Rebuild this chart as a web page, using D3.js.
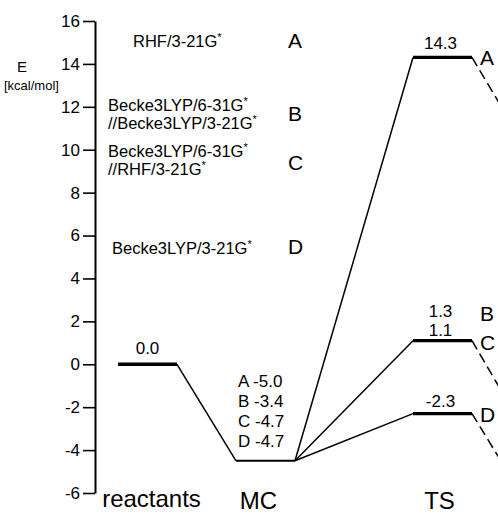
<!DOCTYPE html>
<meta charset="utf-8">
<head>
    <title>Energy profile</title>
</head>
<style>
    body { margin: 0; background: #fff; }
    text { font-family: 'Liberation Sans', Arial, Helvetica, sans-serif; fill: #000; }
    .y-axis path { stroke-width: 2; }
    .y-axis line { stroke-width: 1.6; }
    .y-axis text { font-size: 17px; }
</style>
<body>
<svg id="chart" width="498" height="514"></svg>
<script src="https://d3js.org/d3.v7.min.js"></script>
<script>
    // stages on the x axis
    const stages = ["reactants", "MC", "TS"];
    const stageSlots = [0, 2, 5];          // left end of each level, in slot units
    const yTicks = [16, 14, 12, 10, 8, 6, 4, 2, 0, -2, -4, -6];

    // methods
    const methodKeys = ["A", "B", "C", "D"];
    const methodNames = [
        ["RHF/3-21G*"],
        ["Becke3LYP/6-31G*", "//Becke3LYP/3-21G*"],
        ["Becke3LYP/6-31G*", "//RHF/3-21G*"],
        ["Becke3LYP/3-21G*"]
    ];

    // energies (kcal/mol)
    const reactantE = 0.0;
    const mcLevel = -4.5;                  // drawn MC level
    const mcE = [-5.0, -3.4, -4.7, -4.7];  // MC values per method
    const tsLevels = [14.3, 1.1, -2.3];    // drawn TS levels
    const tsLetters = [["A"], ["B", "C"], ["D"]];
    const tsValues = [["14.3"], ["1.3", "1.1"], ["-2.3"]];
    const exitE = [9.7, -3.6, -6.8];       // where the dashed lines head (off the frame)

    const svg = d3.select("#chart");
    const y = d3.scaleLinear().domain([-6, 16]).range([493, 21]);
    const x = d3.scaleLinear().domain([0, 6]).range([118, 472]);

    // y axis
    svg.append("g")
        .attr("class", "y-axis")
        .attr("transform", "translate(95,0)")
        .call(d3.axisLeft(y).tickValues(yTicks).tickSize(12).tickSizeOuter(0)
            .tickPadding(3).tickFormat(d => String(d)))
        .call(g => g.selectAll("path, line").attr("stroke", "#000"))
        .call(g => g.selectAll("text").attr("fill", "#000"));

    svg.append("text").attr("x", 22).attr("y", 72).attr("text-anchor", "middle")
        .style("font-size", "15px").text("E");
    svg.append("text").attr("x", 4).attr("y", 90)
        .style("font-size", "13px").text("[kcal/mol]");

    // stage names
    const stageLabelY = [507, 509, 509];
    const stageShift = [4, -7, -3];
    svg.selectAll(".stage")
        .data(stages)
        .enter()
        .append("text")
        .attr("x", (d, i) => x(stageSlots[i] + 0.5) + stageShift[i])
        .attr("y", (d, i) => stageLabelY[i])
        .attr("text-anchor", "middle")
        .style("font-size", "24px")
        .text(d => d);

    // legend of methods, one text per method, lines as tspans
    const legendX = [[133], [108, 108], [108, 108], [112]];
    const legendY = [47, 111, 157, 254];
    const letterY = [48, 121, 170, 254];
    methodNames.forEach((lines, i) => {
        const t = svg.append("text")
            .attr("y", legendY[i])
            .style("font-size", "16.5px");
        lines.forEach((line, j) => {
            t.append("tspan")
                .attr("x", legendX[i][j])
                .attr("dy", j == 0 ? 0 : 24)
                .text(line.replace("*", ""));
            t.append("tspan").attr("dy", -6).style("font-size", "11px").text("*");
        });
        svg.append("text")
            .attr("x", 288).attr("y", letterY[i])
            .style("font-size", "21px")
            .text(methodKeys[i]);
    });

    // connecting lines
    const links = svg.append("g").attr("stroke", "#000").attr("fill", "none");
    links.append("line")
        .attr("x1", x(stageSlots[0] + 1)).attr("y1", y(reactantE))
        .attr("x2", x(stageSlots[1])).attr("y2", y(mcLevel))
        .attr("stroke-width", 1.5);
    tsLevels.forEach((e, i) => {
        links.append("line")
            .attr("x1", x(stageSlots[1] + 1)).attr("y1", y(mcLevel))
            .attr("x2", x(stageSlots[2])).attr("y2", y(e))
            .attr("stroke-width", 1.5);
        links.append("line")
            .attr("x1", x(stageSlots[2] + 1)).attr("y1", y(e))
            .attr("x2", x(stageSlots[2] + 2)).attr("y2", y(exitE[i]))
            .attr("stroke-width", 1.5)
            .attr("stroke-dasharray", "10,5");
    });

    // levels
    const levels = svg.append("g").attr("stroke", "#000");
    levels.append("line")
        .attr("x1", x(stageSlots[0])).attr("x2", x(stageSlots[0] + 1))
        .attr("y1", y(reactantE)).attr("y2", y(reactantE))
        .attr("stroke-width", 3.5);
    levels.append("line")
        .attr("x1", x(stageSlots[1])).attr("x2", x(stageSlots[1] + 1))
        .attr("y1", y(mcLevel)).attr("y2", y(mcLevel))
        .attr("stroke-width", 2);
    levels.selectAll(".ts")
        .data(tsLevels)
        .enter()
        .append("line")
        .attr("x1", x(stageSlots[2])).attr("x2", x(stageSlots[2] + 1))
        .attr("y1", d => y(d)).attr("y2", d => y(d))
        .attr("stroke-width", 3.2);

    // value labels
    svg.append("text")
        .attr("x", x(stageSlots[0] + 0.5)).attr("y", y(reactantE) - 10)
        .attr("text-anchor", "middle").style("font-size", "17px")
        .text(reactantE.toFixed(1));

    // MC values, one text with a line per method
    const mcText = svg.append("text")
        .attr("y", y(mcLevel) - 74)
        .style("font-size", "17px");
    methodKeys.forEach((k, i) => {
        mcText.append("tspan")
            .attr("x", 238).attr("dy", i == 0 ? 0 : 20)
            .text(k + " " + mcE[i].toFixed(1));
    });

    const valueOffsets = [[-8], [-24, -5], [-7]];
    const letterOffsets = [[8], [-20, 9], [8]];
    tsLevels.forEach((e, i) => {
        const vt = svg.append("text")
            .attr("y", y(e) + valueOffsets[i][0])
            .attr("text-anchor", "middle").style("font-size", "17px");
        tsValues[i].forEach((v, j) => {
            vt.append("tspan")
                .attr("x", x(stageSlots[2] + 0.5) - 2)
                .attr("dy", j == 0 ? 0 : valueOffsets[i][j] - valueOffsets[i][j - 1])
                .text(v);
        });
        const lt = svg.append("text")
            .attr("y", y(e) + letterOffsets[i][0])
            .style("font-size", "21px");
        tsLetters[i].forEach((l, j) => {
            lt.append("tspan")
                .attr("x", 480)
                .attr("dy", j == 0 ? 0 : letterOffsets[i][j] - letterOffsets[i][j - 1])
                .text(l);
        });
    });
</script>
</body>
</html>
